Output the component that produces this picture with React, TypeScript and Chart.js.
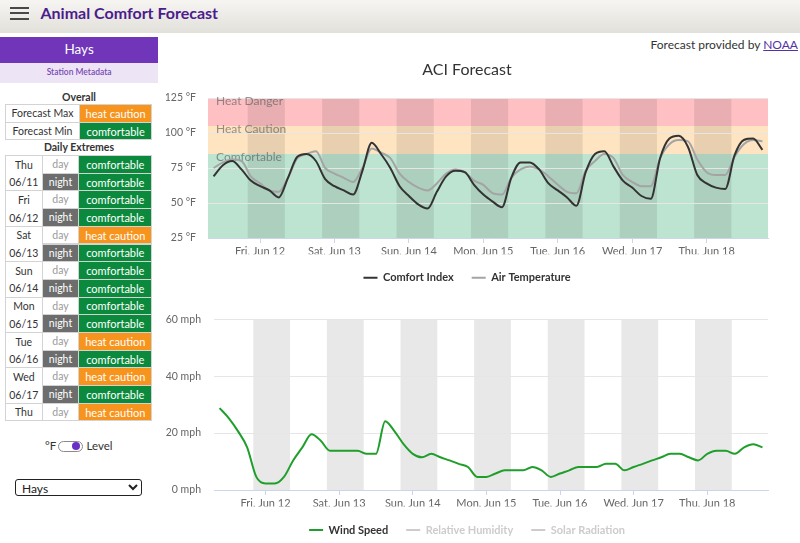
import React, { useEffect, useRef } from "react";
import { Chart, registerables } from "chart.js";

Chart.register(...registerables);

const FONT = "Lato, 'Open Sans', sans-serif";
Chart.defaults.font.family = FONT;

// Forecast hours, counted from midnight at the start of Fri, Jun 12
const HOURS = [
  -15, -12, -9, -6, -3, 0, 3, 6, 9, 12, 15, 18, 21, 24, 27, 30, 33, 36, 39, 42,
  45, 48, 51, 54, 57, 60, 63, 66, 69, 72, 75, 78, 81, 84, 87, 90, 93, 96, 99, 102,
  105, 108, 111, 114, 117, 120, 123, 126, 129, 132, 135, 138, 141, 144, 147, 150, 153, 156, 159, 162,
];

// °F
const COMFORT_INDEX = [
  69, 77, 80, 74, 66, 62, 59, 54, 68, 83, 85, 80, 67, 62, 59, 56, 73, 93, 85, 75,
  62, 55, 49, 46, 58, 69, 73, 72, 63, 56, 51, 47, 68, 79, 79, 74, 64, 59, 54, 48,
  72, 85, 87, 76, 66, 61, 55, 53, 82, 96, 98, 90, 70, 64, 61, 60, 84, 95, 96, 88,
];

// °F
const AIR_TEMPERATURE = [
  75, 79, 81, 80, 69, 64, 59, 58, 68, 82, 85, 87, 75, 71, 68, 65, 75, 89, 86, 82,
  71, 65, 61, 59, 64, 71, 74, 72, 66, 63, 57, 56, 68, 74, 76, 74, 69, 63, 58, 57,
  73, 80, 85, 82, 70, 65, 62, 62, 82, 92, 95, 94, 81, 72, 70, 70, 83, 92, 95, 94,
];

// mph
const WIND_SPEED = [
  28.8, 25.3, 20.7, 15.0, 4.6, 2.3, 2.3, 4.6, 10.4, 15.0, 19.6, 17.3, 13.8, 13.8, 13.8, 13.8, 12.7, 12.7, 24.2, 20.7,
  16.1, 12.7, 11.5, 12.7, 11.5, 10.4, 9.2, 8.1, 4.6, 4.6, 5.8, 6.9, 6.9, 6.9, 8.1, 6.9, 4.6, 5.8, 6.9, 8.1,
  8.1, 8.1, 9.2, 9.2, 6.9, 8.1, 9.2, 10.4, 11.5, 12.7, 12.7, 11.5, 10.4, 12.7, 13.8, 13.8, 12.7, 15.0, 16.1, 15.0,
];

const DAY_TICK_HOURS = [0, 24, 48, 72, 96, 120, 144];
const DAY_TICK_LABELS = [
  "Fri, Jun 12", "Sat, Jun 13", "Sun, Jun 14", "Mon, Jun 15", "Tue, Jun 16", "Wed, Jun 17", "Thu, Jun 18",
];

// Night shading, 8 pm to 8 am
const NIGHT_FROM = [-4, 20, 44, 68, 92, 116, 140];
const NIGHT_TO = [8, 32, 56, 80, 104, 128, 152];

const ZONE_NAMES = ["Heat Danger", "Heat Caution", "Comfortable"];
const ZONE_FROM = [105, 85, 0];
const ZONE_TO = [125, 105, 85];
const ZONE_COLORS = ["#ffc0c4", "#ffe4c2", "#bde4d1"];

const X_MIN = -16.8;
const X_MAX = 163.8;

// Side panel
const OVERALL_NAMES = ["Forecast Max", "Forecast Min"];
const OVERALL_LEVELS = ["heat caution", "comfortable"];
const DAY_NAMES = ["Thu", "Fri", "Sat", "Sun", "Mon", "Tue", "Wed", "Thu"];
const DAY_DATES = ["06/11", "06/12", "06/13", "06/14", "06/15", "06/16", "06/17"];
const DAY_LEVELS = ["comfortable", "comfortable", "heat caution", "comfortable", "comfortable", "heat caution", "heat caution", "heat caution"];
const NIGHT_LEVELS = ["comfortable", "comfortable", "comfortable", "comfortable", "comfortable", "comfortable", "comfortable"];

const LEVEL_COLORS: Record<string, string> = {
  "heat caution": "#f7941d",
  comfortable: "#0b8a3e",
};

type Zone = { name: string; from: number; to: number; color: string };
type Span = { from: number; to: number };

function makeBandsPlugin(zones: Zone[], nights: Span[], nightColor: string) {
  return {
    id: "forecastBands",
    beforeDraw(chart: any) {
      const { ctx, chartArea, scales } = chart;
      if (!chartArea) return;
      const { left, right, top, bottom } = chartArea;
      ctx.save();
      ctx.beginPath();
      ctx.rect(left, top, right - left, bottom - top);
      ctx.clip();
      for (const z of zones) {
        const y1 = scales.y.getPixelForValue(z.to);
        const y2 = scales.y.getPixelForValue(z.from);
        ctx.fillStyle = z.color;
        ctx.fillRect(left, y1, right - left, y2 - y1);
      }
      for (const n of nights) {
        const x1 = scales.x.getPixelForValue(n.from);
        const x2 = scales.x.getPixelForValue(n.to);
        ctx.fillStyle = nightColor;
        ctx.fillRect(x1, top, x2 - x1, bottom - top);
      }
      ctx.restore();
    },
    beforeDatasetsDraw(chart: any) {
      const { ctx, chartArea, scales } = chart;
      if (!chartArea || zones.length === 0) return;
      ctx.save();
      ctx.font = `12px ${FONT}`;
      ctx.textBaseline = "middle";
      ctx.textAlign = "left";
      ctx.fillStyle = "rgba(85, 85, 85, 0.62)";
      for (const z of zones) {
        const y = scales.y.getPixelForValue(z.to);
        ctx.fillText(z.name, chartArea.left + 8, y + 3);
      }
      ctx.restore();
    },
  };
}

const legendLabels = {
  boxWidth: 14,
  boxHeight: 2,
  padding: 18,
  font: { family: FONT, size: 11, weight: "bold" as const },
  generateLabels(chart: any) {
    return chart.data.datasets.map((ds: any, i: number) => {
      const off = !chart.isDatasetVisible(i);
      const c = off ? "#cccccc" : ds.borderColor;
      return {
        text: ds.label,
        datasetIndex: i,
        fillStyle: c,
        strokeStyle: c,
        lineWidth: 0,
        hidden: false,
        fontColor: off ? "#cccccc" : "#333333",
      };
    });
  },
};

function xScale(height: number) {
  return {
    type: "linear" as const,
    min: X_MIN,
    max: X_MAX,
    afterBuildTicks: (s: any) => {
      s.ticks = DAY_TICK_HOURS.map((value) => ({ value }));
    },
    afterFit: (s: any) => {
      s.height = height;
    },
    ticks: {
      autoSkip: false,
      maxRotation: 0,
      padding: 2,
      color: "#666666",
      font: { family: FONT, size: 11 },
      callback: (_v: any, i: number) => DAY_TICK_LABELS[i] ?? "",
    },
    grid: { display: true, drawOnChartArea: false, drawTicks: true, tickLength: 5, color: "#ccd6eb" },
    border: { display: true, color: "#ccd6eb" },
  };
}

function yScale(min: number, max: number, step: number, unit: string, width: number, pad: number) {
  return {
    type: "linear" as const,
    min,
    max,
    afterFit: (s: any) => {
      s.width = width;
    },
    ticks: {
      stepSize: step,
      padding: pad,
      color: "#666666",
      font: { family: FONT, size: 10.5 },
      callback: (v: any) => `${v} ${unit}`,
    },
    grid: { color: "#e6e6e6", drawTicks: false },
    border: { display: false },
  };
}

const nights: Span[] = NIGHT_FROM.map((from, i) => ({ from, to: NIGHT_TO[i] }));
const zones: Zone[] = ZONE_NAMES.map((name, i) => ({ name, from: ZONE_FROM[i], to: ZONE_TO[i], color: ZONE_COLORS[i] }));

function comfortConfig(): any {
  return {
    type: "line",
    data: {
      datasets: [
        {
          label: "Comfort Index",
          data: HOURS.map((x, i) => ({ x, y: COMFORT_INDEX[i] })),
          borderColor: "#333333",
          backgroundColor: "#333333",
          borderWidth: 2,
          pointRadius: 0,
          cubicInterpolationMode: "monotone",
        },
        {
          label: "Air Temperature",
          data: HOURS.map((x, i) => ({ x, y: AIR_TEMPERATURE[i] })),
          borderColor: "#a4a4a4",
          backgroundColor: "#a4a4a4",
          borderWidth: 2,
          pointRadius: 0,
          cubicInterpolationMode: "monotone",
        },
      ],
    },
    options: {
      animation: false,
      responsive: false,
      devicePixelRatio: 1,
      events: [],
      layout: { padding: { left: 6, right: 32, top: 0, bottom: 1.8 } },
      scales: {
        x: xScale(16.2),
        y: yScale(25, 125, 25, "°F", 42, 12),
      },
      plugins: {
        title: {
          display: true,
          text: "ACI Forecast",
          color: "#333333",
          font: { family: FONT, size: 16, weight: "normal" },
          padding: { top: 5.4, bottom: 18.4 },
        },
        legend: { position: "bottom", labels: legendLabels },
        tooltip: { enabled: false },
      },
    },
    plugins: [makeBandsPlugin(zones, nights, "rgba(0, 0, 0, 0.09)")],
  };
}

function weatherConfig(): any {
  return {
    type: "line",
    data: {
      datasets: [
        {
          label: "Wind Speed",
          data: HOURS.map((x, i) => ({ x, y: WIND_SPEED[i] })),
          borderColor: "#1f9e2b",
          backgroundColor: "#1f9e2b",
          borderWidth: 2,
          pointRadius: 0,
          cubicInterpolationMode: "monotone",
        },
        { label: "Relative Humidity", data: [], hidden: true, borderColor: "#7cb5ec" },
        { label: "Solar Radiation", data: [], hidden: true, borderColor: "#f7a35c" },
      ],
    },
    options: {
      animation: false,
      responsive: false,
      devicePixelRatio: 1,
      events: [],
      layout: { padding: { left: 6, right: 32, top: 15, bottom: 0.5 } },
      scales: {
        x: xScale(16.5),
        y: yScale(0, 60, 20, "mph", 48, 13),
      },
      plugins: {
        legend: { position: "bottom", labels: legendLabels },
        tooltip: { enabled: false },
      },
    },
    plugins: [makeBandsPlugin([], nights, "rgba(0, 0, 0, 0.09)")],
  };
}

function ChartCanvas({ make, left, top, width, height }: { make: () => any; left: number; top: number; width: number; height: number }) {
  const ref = useRef<HTMLCanvasElement>(null);
  useEffect(() => {
    const chart = new Chart(ref.current as HTMLCanvasElement, make());
    return () => chart.destroy();
  }, []);
  return (
    <canvas
      ref={ref}
      width={width}
      height={height}
      style={{ position: "absolute", left, top, width, height, display: "block" }}
    />
  );
}

function Box(props: {
  x: number; y: number; w: number; h: number; bg?: string; color?: string; border?: string;
  size?: number; weight?: number; children?: React.ReactNode;
}) {
  const { x, y, w, h, bg = "transparent", color = "#333", border = "none", size = 11, weight = 400, children } = props;
  return (
    <div
      style={{
        position: "absolute", left: x, top: y, width: w, height: h, background: bg, color, border,
        boxSizing: "border-box", display: "flex", alignItems: "center", justifyContent: "center",
        fontSize: size, fontWeight: weight, whiteSpace: "nowrap", lineHeight: 1,
      }}
    >
      {children}
    </div>
  );
}

const GRID = "1px solid #d3d3d3";
const ROW_H = 17.7;
const T2_TOP = 155;
const COL_X = [5, 41.7, 78.3];
const COL_R = [41.7, 78.3, 152.3];

function SidePanel() {
  const cells: React.ReactNode[] = [];
  // Overall table
  OVERALL_NAMES.forEach((name, i) => {
    const y = 104.3 + i * 17.5;
    cells.push(<Box key={`on${i}`} x={5} y={y} w={75} h={18.5} border={GRID} size={10.5}>{name}</Box>);
    cells.push(
      <Box key={`ol${i}`} x={79} y={y} w={73.3} h={18.5} bg={LEVEL_COLORS[OVERALL_LEVELS[i]]} color="#fff" border={GRID} size={11}>
        {OVERALL_LEVELS[i]}
      </Box>
    );
  });
  // Daily extremes table
  DAY_NAMES.forEach((name, g) => {
    const hasNight = g < NIGHT_LEVELS.length;
    const top = T2_TOP + 2 * g * ROW_H;
    cells.push(
      <div key={`dn${g}`} style={{ position: "absolute", left: COL_X[0], top, width: COL_R[0] - COL_X[0] + 1, height: (hasNight ? 2 : 1) * ROW_H + 1, border: GRID, boxSizing: "border-box" }}>
        <Box x={0} y={0} w={COL_R[0] - COL_X[0] - 1} h={ROW_H} size={10.5}>{name}</Box>
        {hasNight && <Box x={0} y={ROW_H} w={COL_R[0] - COL_X[0] - 1} h={ROW_H} size={10.5}>{DAY_DATES[g]}</Box>}
      </div>
    );
    cells.push(<Box key={`dd${g}`} x={COL_X[1]} y={top} w={COL_R[1] - COL_X[1] + 1} h={ROW_H + 1} border={GRID} color="#9a9a9a" size={10.5}>day</Box>);
    cells.push(
      <Box key={`dl${g}`} x={COL_X[2]} y={top} w={COL_R[2] - COL_X[2]} h={ROW_H + 1} border={GRID} bg={LEVEL_COLORS[DAY_LEVELS[g]]} color="#fff" size={11}>
        {DAY_LEVELS[g]}
      </Box>
    );
    if (hasNight) {
      cells.push(<Box key={`nn${g}`} x={COL_X[1]} y={top + ROW_H} w={COL_R[1] - COL_X[1] + 1} h={ROW_H + 1} border={GRID} bg="#6d6d6d" color="#fff" size={10.5}>night</Box>);
      cells.push(
        <Box key={`nl${g}`} x={COL_X[2]} y={top + ROW_H} w={COL_R[2] - COL_X[2]} h={ROW_H + 1} border={GRID} bg={LEVEL_COLORS[NIGHT_LEVELS[g]]} color="#fff" size={11}>
          {NIGHT_LEVELS[g]}
        </Box>
      );
    }
  });

  return (
    <>
      <Box x={0} y={36.7} w={158.3} h={26} bg="#7035b8" color="#ffffff" size={13.5}>Hays</Box>
      <Box x={0} y={62.7} w={158.3} h={20} bg="#ede5f6" color="#7a4cb4" size={8.5} weight={600}>Station Metadata</Box>
      <Box x={0} y={90} w={158} h={15} size={10.5} weight={700}>Overall</Box>
      <Box x={0} y={140} w={158} h={15} size={10.5} weight={700}>Daily Extremes</Box>
      {cells}
      {/* unit toggle */}
      <div style={{ position: "absolute", left: 45, top: 439, fontSize: 11.5, color: "#333", lineHeight: "14px" }}>°F</div>
      <div style={{ position: "absolute", left: 57.7, top: 440.5, width: 25.6, height: 11, border: "1.3px solid #8a8a8a", borderRadius: 6, boxSizing: "border-box" }} />
      <div style={{ position: "absolute", left: 71.5, top: 441.8, width: 8.6, height: 8.6, borderRadius: "50%", background: "#6c2fc4" }} />
      <div style={{ position: "absolute", left: 86.5, top: 439, fontSize: 11.5, color: "#333", lineHeight: "14px" }}>Level</div>
      <select
        defaultValue="Hays"
        style={{ position: "absolute", left: 15, top: 479, width: 127.3, height: 17, border: "1px solid #222", borderRadius: 3, fontSize: 12, fontFamily: FONT, padding: "0 2px", background: "#fff", color: "#222" }}
      >
        <option value="Hays">Hays</option>
      </select>
    </>
  );
}

export default function App() {
  return (
    <div style={{ position: "fixed", inset: 0, overflow: "hidden", background: "#ffffff", fontFamily: FONT, color: "#333" }}>
      <div style={{ position: "absolute", left: 0, top: 0, width: 800, height: 33.3, background: "linear-gradient(#f6f5f2, #e2e0da)" }}>
        {[6.5, 12, 17.5].map((t) => (
          <div key={t} style={{ position: "absolute", left: 10, top: t, width: 19.3, height: 2.2, background: "#484848" }} />
        ))}
        <div style={{ position: "absolute", left: 40.5, top: 3.5, fontSize: 16, fontWeight: 700, color: "#4b1c8c", lineHeight: "18px", whiteSpace: "nowrap" }}>
          Animal Comfort Forecast
        </div>
      </div>
      <div style={{ position: "absolute", right: 2, top: 37, fontSize: 12, lineHeight: "16px", whiteSpace: "nowrap", color: "#333" }}>
        Forecast provided by <span style={{ color: "#5532a6", textDecoration: "underline" }}>NOAA</span>
      </div>
      <SidePanel />
      <ChartCanvas make={comfortConfig} left={160} top={55} width={640} height={240} />
      <ChartCanvas make={weatherConfig} left={160} top={300} width={640} height={246} />
    </div>
  );
}
